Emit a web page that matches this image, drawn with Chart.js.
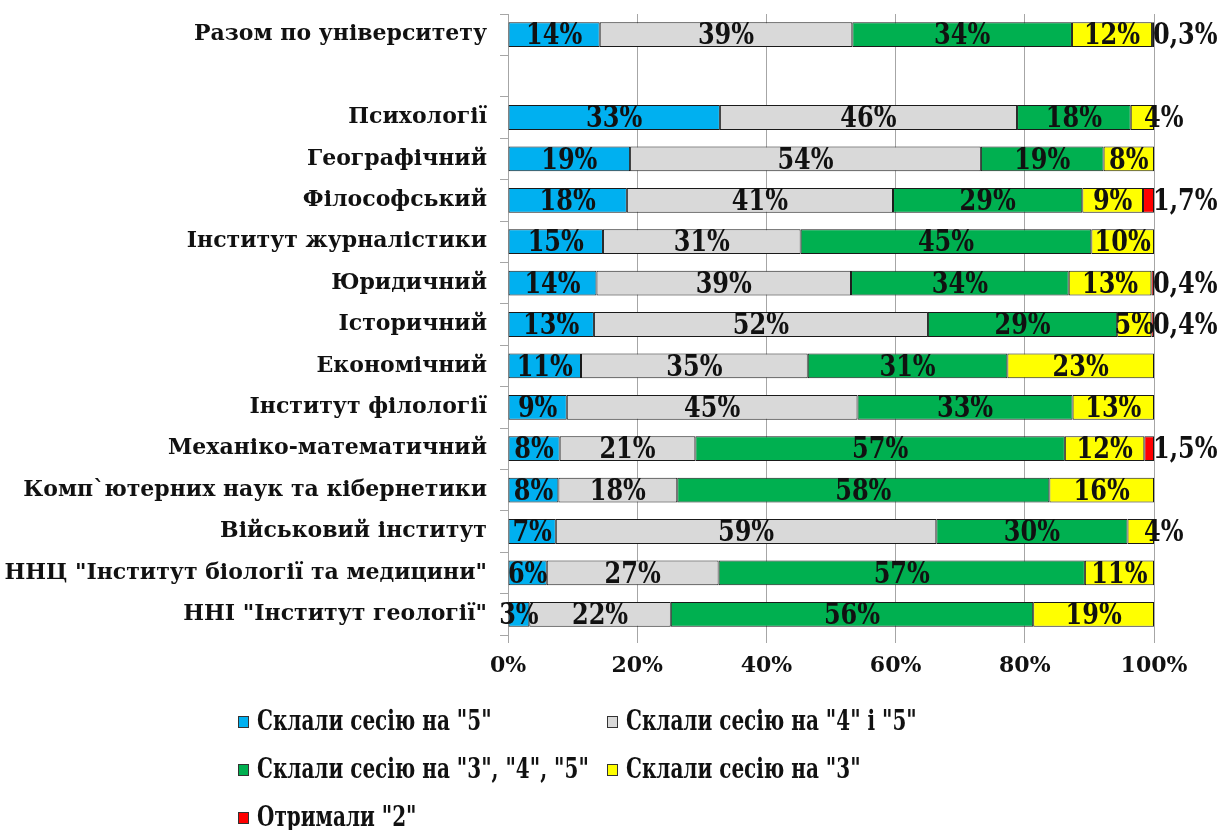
<!DOCTYPE html>
<html>
<head>
<meta charset="utf-8">
<script src="https://cdn.jsdelivr.net/npm/chart.js@4/dist/chart.umd.min.js"></script>
<style>
  html, body { margin: 0; padding: 0; background: #fff; }
  #wrap { width: 1218px; height: 830px; position: relative; }
</style>
</head>
<body>
<div id="wrap"><canvas id="chart" width="1218" height="830"></canvas></div>
<script>
// categories, top to bottom (the empty one is the gap under the total row)
var categories = ['Разом по університету', '', 'Психології', 'Географічний', 'Філософський',
  'Інститут журналістики', 'Юридичний', 'Історичний', 'Економічний', 'Інститут філології',
  'Механіко-математичний', 'Комп`ютерних наук та кібернетики', 'Військовий інститут',
  'ННЦ "Інститут біології та медицини"', 'ННІ "Інститут геології"'];

var seriesNames = ['Склали сесію на "5"', 'Склали сесію на "4" і "5"',
  'Склали сесію на "3", "4", "5"', 'Склали сесію на "3"', 'Отримали "2"'];

// shares in %
var grade5   = [14.2, null, 32.8, 18.9, 18.4, 14.7, 13.7, 13.3, 11.3, 9.1, 8.0, 7.8, 7.4, 6.0, 3.3];
var grade45  = [39.1, null, 46.0, 54.3, 41.2, 30.6, 39.4, 51.7, 35.1, 45.0, 21.0, 18.4, 58.9, 26.6, 21.9];
var grade345 = [34.0, null, 17.6, 19.0, 29.3, 45.0, 33.7, 29.3, 30.9, 33.3, 57.2, 57.6, 29.6, 56.7, 56.1];
var grade3   = [12.4, null, 3.6, 7.8, 9.4, 9.7, 12.8, 5.3, 22.7, 12.6, 12.3, 16.2, 4.1, 10.7, 18.7];
var grade2   = [0.3, null, null, null, 1.7, null, 0.4, 0.4, null, null, 1.5, null, null, null, null];

var xTicks = [0, 20, 40, 60, 80, 100];

var colors = ['#00b0f0', '#d9d9d9', '#00b050', '#ffff00', '#ff0000'];
var serif = '"DejaVu Serif", "Liberation Serif", serif';
var squeeze = 0.8;   // data labels in the picture are narrow and tall

function fmt(v)
{
  if (v < 2) return v.toFixed(1).replace('.', ',') + '%';
  return Math.round(v) + '%';
}

function lastFilled(i, di, datasets)
{
  for (var k = datasets.length - 1; k > di; k--)
  {
    if (datasets[k].data[i] != null) return false;
  }
  return true;
}

// value labels drawn over the bars
var barLabels = {
  id: 'barLabels',
  afterDatasetsDraw: function(chart)
  {
    var ctx = chart.ctx;
    var dsets = chart.data.datasets;
    ctx.save();
    ctx.font = 'bold 30px ' + serif;
    ctx.fillStyle = '#111';
    ctx.textBaseline = 'middle';
    ctx.textAlign = 'left';
    for (var di = 0; di < dsets.length; di++)
    {
      var meta = chart.getDatasetMeta(di);
      for (var i = 0; i < meta.data.length; i++)
      {
        var v = dsets[di].data[i];
        if (v == null) continue;
        var bar = meta.data[i];
        var txt = fmt(v);
        var w = ctx.measureText(txt).width * squeeze;
        var left = Math.min(bar.base, bar.x), right = Math.max(bar.base, bar.x);
        var x;
        if (di == dsets.length - 1) x = right - 1;
        else if (w > right - left + 8 && lastFilled(i, di, dsets)) x = right - 10;
        else x = (left + right) / 2 - w / 2;
        ctx.save();
        ctx.translate(x, bar.y + 2);
        ctx.scale(squeeze, 1);
        ctx.fillText(txt, 0, 0);
        ctx.restore();
      }
    }
    ctx.restore();
  }
};

// legend laid out in two columns like the original
var gridLegend = {
  id: 'gridLegend',
  afterDraw: function(chart)
  {
    var ctx = chart.ctx;
    var colX = [238, 607];
    var rowY = [722, 770, 818];
    ctx.save();
    ctx.font = 'bold 27px ' + serif;
    ctx.textBaseline = 'middle';
    ctx.textAlign = 'left';
    chart.data.datasets.forEach(function(ds, k)
    {
      var x = colX[k % 2], y = rowY[Math.floor(k / 2)];
      ctx.fillStyle = ds.backgroundColor;
      ctx.fillRect(x, y - 6, 10, 11);
      ctx.strokeStyle = '#333';
      ctx.lineWidth = 1;
      ctx.strokeRect(x + 0.5, y - 5.5, 10, 11);
      ctx.fillStyle = '#111';
      ctx.save();
      ctx.translate(x + 19, y + 1);
      ctx.scale(0.74, 1);
      ctx.fillText(ds.label, 0, 0);
      ctx.restore();
    });
    ctx.restore();
  }
};

var allSeries = [grade5, grade45, grade345, grade3, grade2];
var datasets = allSeries.map(function(arr, k)
{
  return {
    label: seriesNames[k],
    data: arr,
    backgroundColor: colors[k],
    borderColor: '#1a1a1a',
    borderWidth: 1,
    borderSkipped: false,
    categoryPercentage: 1.0,
    barPercentage: 0.6
  };
});

var chart = new Chart(document.getElementById('chart'),
{
  type: 'bar',
  data: { labels: categories, datasets: datasets },
  options: {
    indexAxis: 'y',
    responsive: false,
    animation: false,
    layout: { padding: { top: 14, left: 0, right: 64, bottom: 145 } },
    plugins: {
      legend: { display: false },
      tooltip: { enabled: false }
    },
    scales: {
      x: {
        stacked: true,
        min: 0,
        max: 100,
        afterBuildTicks: function(scale) { scale.ticks = xTicks.map(function(v) { return { value: v }; }); },
        afterFit: function(scale) { scale.height = 50; },
        border: { display: false },
        grid: { color: '#a6a6a6', lineWidth: 1, tickLength: 8 },
        ticks: {
          padding: 10,
          color: '#111',
          font: { family: serif, weight: 'bold', size: 22 },
          callback: function(v) { return v + '%'; }
        }
      },
      y: {
        stacked: true,
        afterFit: function(scale)
        {
          scale.width = 508;
          scale.paddingTop = 0;
          scale.paddingBottom = 0;
        },
        border: { display: true, color: '#a6a6a6', width: 1 },
        grid: { offset: true, drawOnChartArea: false, color: '#a6a6a6', tickLength: 8 },
        ticks: {
          padding: 13,
          color: '#111',
          autoSkip: false,
          font: { family: serif, weight: 'bold', size: 22 }
        }
      }
    }
  },
  plugins: [barLabels, gridLegend]
});
</script>
</body>
</html>
